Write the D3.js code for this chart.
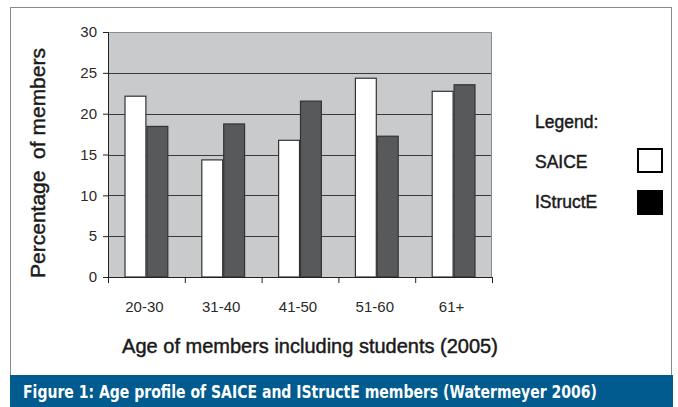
<!DOCTYPE html>
<html><head><meta charset="utf-8">
<script src="https://cdn.jsdelivr.net/npm/d3@7"></script>
<style>body{margin:0;background:#fff}svg{display:block}</style>
</head><body>
<script>
const categories = ["20-30","31-40","41-50","51-60","61+"];
const saice = [22.2, 14.4, 16.8, 24.4, 22.8];
const istructe = [18.5, 18.8, 21.6, 17.3, 23.6];
const yTicks = [0,5,10,15,20,25,30];
const seriesNames = ["SAICE","IStructE"];

const W=678,H=407;
const svg=d3.select("body").append("svg").attr("width",W).attr("height",H);
const font="'Liberation Sans', Arial, sans-serif";

// frame
svg.append("rect").attr("x",10.5).attr("y",7.5).attr("width",661).attr("height",380)
  .attr("fill","#fff").attr("stroke","#8a8a8a").attr("stroke-width",1);

const L=108,R=492,T=32,B=277;
const x=d3.scaleBand().domain(categories).range([L,R]).paddingInner(0.43).paddingOuter(0.215);
const xs=d3.scaleBand().domain(seriesNames).range([0,x.bandwidth()]);
const y=d3.scaleLinear().domain([0,30]).range([B,T]);

svg.append("rect").attr("x",L).attr("y",T).attr("width",R-L).attr("height",B-T).attr("fill","#c9cacc");
// gridlines
svg.append("g").selectAll("line").data(yTicks.filter(d=>d>0&&d<30)).join("line")
  .attr("x1",L).attr("x2",R).attr("y1",d=>Math.round(y(d))+0.5).attr("y2",d=>Math.round(y(d))+0.5)
  .attr("stroke","#3a3a3a").attr("stroke-width",1);
// top and right borders
svg.append("path").attr("d",`M${L},${T+0.5}H${R-0.5}V${B}`).attr("fill","none").attr("stroke","#8c8c8c");

const data=categories.map((c,i)=>({c,vals:[{s:"SAICE",v:saice[i]},{s:"IStructE",v:istructe[i]}]}));
const g=svg.append("g").selectAll("g").data(data).join("g").attr("transform",d=>`translate(${x(d.c)},0)`);
g.selectAll("rect").data(d=>d.vals).join("rect")
  .attr("x",d=>xs(d.s)+0.5).attr("y",d=>y(d.v)+0.5)
  .attr("width",xs.bandwidth()-1).attr("height",d=>B-y(d.v)-0.5)
  .attr("fill",d=>d.s==="SAICE"?"#ffffff":"#58595b")
  .attr("stroke","#333").attr("stroke-width",1.2);

// y axis
const ya=svg.append("g").attr("transform",`translate(${L},0)`)
  .call(d3.axisLeft(y).tickValues(yTicks).tickSize(5).tickPadding(6));
ya.select(".domain").attr("stroke","#222");
ya.selectAll(".tick line").attr("stroke","#222");
ya.selectAll("text").attr("font-family",font).attr("font-size",15).attr("fill","#2a2a2a");

// x axis with ticks between categories
const xa=svg.append("g").attr("transform",`translate(0,${B})`);
xa.append("line").attr("x1",L).attr("x2",R).attr("y1",0.5).attr("y2",0.5).attr("stroke","#222");
const step=x.step();
xa.selectAll("line.t").data(d3.range(categories.length+1)).join("line").attr("class","t")
  .attr("x1",i=>L+i*step+0.5).attr("x2",i=>L+i*step+0.5).attr("y1",0).attr("y2",6).attr("stroke","#222");
xa.selectAll("text").data(categories).join("text")
  .attr("x",d=>x(d)+x.bandwidth()/2-2).attr("y",35)
  .attr("text-anchor","middle").attr("font-family",font).attr("font-size",15).attr("fill","#2a2a2a").text(d=>d);

// titles
const heavy=sel=>sel.attr("stroke","#1a1a1a").attr("stroke-width",0.45).attr("fill","#1a1a1a");
svg.append("text").attr("x",310).attr("y",353).attr("text-anchor","middle")
  .attr("font-family",font).attr("font-size",20)
  .text("Age of members including students (2005)").call(heavy);
svg.append("text").attr("transform","translate(45,163) rotate(-90)").attr("text-anchor","middle")
  .attr("font-family",font).attr("font-size",21).attr("xml:space","preserve")
  .text("Percentage  of members").call(heavy);

// legend
svg.append("text").attr("x",535).attr("y",128).attr("font-family",font).attr("font-size",17.5).text("Legend:").call(heavy);
const lg=svg.append("g").selectAll("g").data(seriesNames).join("g");
lg.append("text").attr("x",535).attr("y",(d,i)=>168+i*40).attr("font-family",font).attr("font-size",17.5).text(d=>d).call(heavy);
lg.append("rect").attr("x",638).attr("y",(d,i)=>149+i*42).attr("width",24).attr("height",23)
  .attr("fill",(d,i)=>i===0?"#fff":"#000").attr("stroke","#000").attr("stroke-width",2);

// caption band
svg.append("rect").attr("x",10).attr("y",375).attr("width",663).attr("height",32).attr("fill","#005b8e");
svg.append("text").attr("x",23).attr("y",398).attr("font-family","'DejaVu Sans Condensed','DejaVu Sans',sans-serif")
  .attr("font-weight","bold").attr("font-size",17).attr("fill","#fff")
  .attr("textLength",574).attr("lengthAdjust","spacingAndGlyphs")
  .text("Figure 1: Age profile of SAICE and IStructE members (Watermeyer 2006)");
</script>
</body></html>
